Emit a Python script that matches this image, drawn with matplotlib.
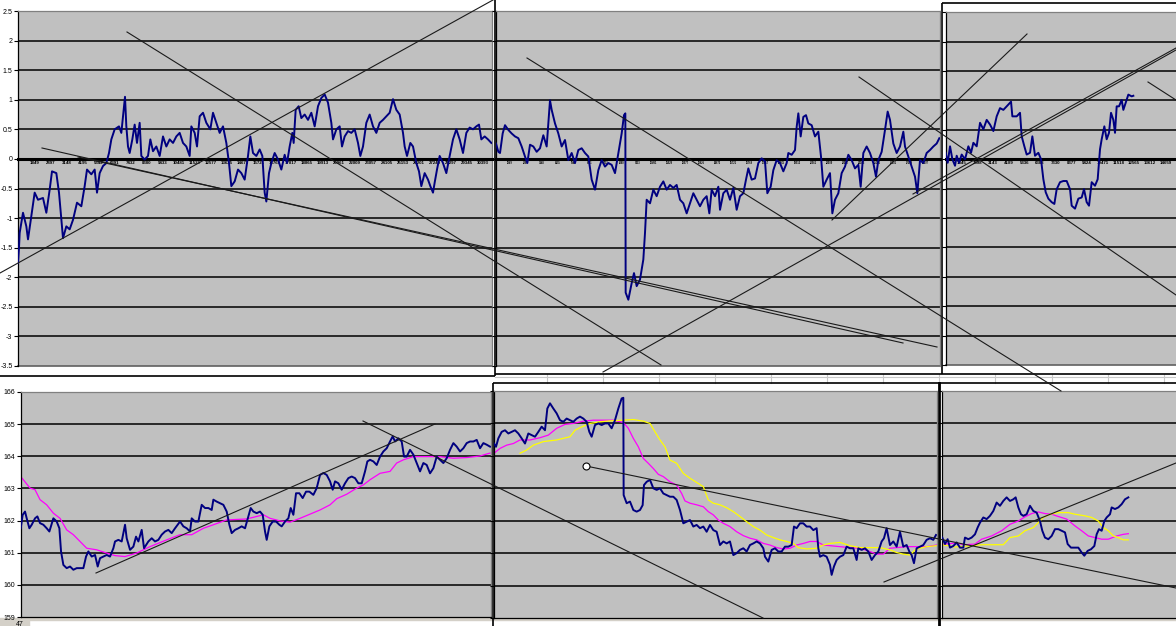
import numpy as np
import matplotlib
matplotlib.use("Agg")
import matplotlib.pyplot as plt

plt.rcParams['font.family'] = ['Liberation Sans', 'DejaVu Sans']

W, H = 1176, 626

# ---- top row: oscillator (x = sample index, y = value) ----
tp1 = np.array([
    (0, -1.76), (3, -1.50), (5, -1.25), (15, -0.91), (25, -1.14), (30, -1.36), (40, -0.97), (50, -0.57),
    (60, -0.69), (75, -0.66), (85, -0.91), (95, -0.52), (102, -0.21), (115, -0.24), (123, -0.57), (130, -1.03),
    (135, -1.34), (145, -1.14), (155, -1.19), (165, -1.03), (177, -0.74), (190, -0.80), (200, -0.46), (207, -0.18),
    (220, -0.26), (230, -0.18), (237, -0.57), (245, -0.24), (255, -0.12), (265, -0.07), (273, 0.10), (280, 0.33),
    (290, 0.50), (303, 0.55), (310, 0.44), (320, 1.00), (321, 1.05), (325, 0.55), (330, 0.21), (335, 0.10),
    (343, 0.33), (350, 0.58), (357, 0.27), (365, 0.61), (370, 0.05), (380, -0.01), (390, 0.05), (397, 0.33),
    (405, 0.13), (415, 0.21), (425, 0.05), (435, 0.38), (445, 0.21), (455, 0.33), (465, 0.27), (475, 0.38),
    (485, 0.44), (495, 0.27), (505, 0.21), (515, 0.05), (520, 0.55), (530, 0.44), (537, 0.21), (545, 0.72),
    (555, 0.78), (565, 0.61), (577, 0.50), (585, 0.78), (595, 0.61), (605, 0.44), (615, 0.55), (625, 0.27),
    (633, -0.07), (640, -0.46), (650, -0.38), (660, -0.18), (670, -0.24), (680, -0.35), (690, 0.05), (697, 0.38),
    (705, 0.10), (715, 0.05), (725, 0.16), (733, 0.05), (740, -0.57), (745, -0.72), (753, -0.24), (760, -0.07),
    (770, 0.10), (780, -0.01), (790, -0.18), (800, 0.07), (807, -0.07), (815, 0.21), (823, 0.44), (827, 0.27),
    (833, 0.83), (842, 0.89), (850, 0.69), (860, 0.75), (870, 0.66), (880, 0.78), (890, 0.55), (900, 0.89),
    (910, 1.03), (920, 1.09), (930, 0.95), (940, 0.61), (945, 0.33), (955, 0.50), (965, 0.55), (972, 0.21),
    (980, 0.38), (990, 0.47), (1000, 0.44), (1010, 0.50), (1020, 0.27), (1027, 0.05), (1035, 0.21), (1045, 0.61),
    (1055, 0.75), (1065, 0.55), (1075, 0.44), (1085, 0.61), (1095, 0.66), (1105, 0.72), (1115, 0.78), (1125, 1.01),
    (1135, 0.83), (1145, 0.75), (1155, 0.44), (1160, 0.21), (1167, 0.05), (1177, 0.27), (1185, 0.21), (1195, -0.07),
    (1203, -0.21), (1210, -0.46), (1220, -0.24), (1230, -0.35), (1237, -0.46), (1245, -0.57), (1250, -0.40),
    (1257, -0.18), (1265, 0.05), (1275, -0.07), (1285, -0.24), (1295, 0.05), (1305, 0.33), (1315, 0.50),
    (1325, 0.33), (1335, 0.10), (1345, 0.44), (1355, 0.53), (1365, 0.50), (1375, 0.55), (1383, 0.58),
    (1390, 0.33), (1400, 0.38), (1410, 0.33), (1420, 0.27)])

tp2 = np.array([
    (0, 0.26), (7, 0.12), (12, 0.10), (20, 0.43), (27, 0.57), (37, 0.49), (47, 0.43), (57, 0.38), (67, 0.35),
    (77, 0.21), (87, 0.04), (94, -0.07), (102, 0.24), (112, 0.21), (122, 0.12), (132, 0.18), (142, 0.40),
    (152, 0.21), (157, 0.60), (162, 0.99), (167, 0.83), (177, 0.60), (187, 0.43), (197, 0.21), (207, 0.32),
    (217, -0.02), (227, 0.10), (237, -0.07), (247, 0.15), (257, 0.18), (267, 0.10), (277, 0.04), (287, -0.35),
    (297, -0.52), (307, -0.19), (317, -0.02), (327, -0.13), (337, -0.07), (347, -0.10), (357, -0.24), (367, 0.10),
    (377, 0.43), (384, 0.74), (388, 0.77), (389, -2.26), (397, -2.38), (407, -2.10), (414, -1.93), (422, -2.15),
    (432, -2.04), (442, -1.70), (447, -1.25), (452, -0.69), (462, -0.75), (472, -0.52), (482, -0.63), (492, -0.47),
    (502, -0.38), (512, -0.52), (522, -0.44), (532, -0.49), (542, -0.44), (552, -0.69), (562, -0.75), (572, -0.92),
    (582, -0.75), (592, -0.58), (602, -0.69), (612, -0.80), (622, -0.69), (632, -0.63), (640, -0.92), (647, -0.52),
    (657, -0.63), (667, -0.47), (672, -0.86), (682, -0.58), (692, -0.52), (702, -0.69), (712, -0.49), (722, -0.86),
    (732, -0.63), (742, -0.58), (750, -0.35), (757, -0.16), (767, -0.35), (777, -0.33), (787, -0.07), (797, 0.01),
    (807, -0.04), (814, -0.58), (824, -0.47), (832, -0.19), (842, -0.02), (852, -0.07), (862, -0.21), (872, -0.07),
    (877, 0.10), (887, 0.07), (897, 0.15), (902, 0.54), (907, 0.77), (914, 0.38), (922, 0.71), (930, 0.74),
    (937, 0.60), (947, 0.57), (957, 0.38), (967, 0.46), (975, 0.04), (982, -0.47), (992, -0.35), (1002, -0.24),
    (1009, -0.92), (1017, -0.69), (1027, -0.58), (1037, -0.24), (1047, -0.13), (1057, 0.07), (1067, -0.02),
    (1077, -0.16), (1087, -0.10), (1094, -0.47), (1102, 0.10), (1112, 0.21), (1122, 0.10), (1132, -0.07),
    (1140, -0.30), (1147, -0.02), (1157, 0.12), (1167, 0.49), (1175, 0.80), (1182, 0.66), (1192, 0.26),
    (1202, 0.10), (1212, 0.21), (1222, 0.46), (1227, 0.21), (1237, 0.04), (1247, -0.13), (1257, -0.30),
    (1264, -0.58), (1272, -0.02), (1282, -0.07), (1292, 0.10), (1302, 0.15), (1312, 0.21), (1322, 0.26),
    (1330, 0.35)])

tp3 = np.array([
    (0, 0.11), (6, -0.06), (13, 0.22), (20, 0.0), (28, -0.11), (33, 0.06), (40, -0.06), (48, 0.08), (58, 0.0),
    (68, 0.22), (76, 0.11), (83, 0.28), (93, 0.22), (103, 0.62), (113, 0.51), (123, 0.67), (133, 0.59),
    (143, 0.48), (153, 0.73), (163, 0.87), (173, 0.84), (183, 0.90), (196, 0.98), (200, 0.73), (213, 0.73),
    (223, 0.79), (228, 0.39), (236, 0.22), (243, 0.08), (253, 0.11), (260, 0.39), (268, 0.06), (278, 0.11),
    (286, 0.0), (293, -0.34), (300, -0.56), (308, -0.67), (318, -0.73), (326, -0.76), (333, -0.51), (343, -0.39),
    (353, -0.37), (363, -0.37), (373, -0.51), (378, -0.79), (388, -0.84), (398, -0.67), (408, -0.65),
    (415, -0.51), (423, -0.73), (430, -0.79), (438, -0.39), (448, -0.45), (456, -0.34), (463, 0.17), (468, 0.34),
    (476, 0.56), (483, 0.34), (490, 0.45), (496, 0.79), (503, 0.67), (508, 0.45), (513, 0.90), (520, 0.90),
    (528, 1.01), (533, 0.84), (540, 0.96), (548, 1.10), (558, 1.07), (563, 1.08)])

# ---- bottom row: price, magenta average, yellow average ----
bp1_price = np.array([
    (0, 161.76), (6, 162.18), (13, 162.28), (18, 162.07), (26, 161.76), (33, 161.87), (43, 162.07), (50, 162.13),
    (58, 161.92), (68, 161.87), (78, 161.76), (86, 161.66), (98, 162.07), (108, 161.97), (116, 161.76),
    (121, 161.04), (128, 160.62), (138, 160.52), (148, 160.57), (158, 160.47), (168, 160.52), (178, 160.52),
    (188, 160.52), (196, 160.88), (203, 161.04), (213, 160.88), (223, 160.93), (231, 160.57), (238, 160.83),
    (248, 160.88), (258, 160.93), (268, 160.88), (278, 161.14), (283, 161.35), (293, 161.40), (303, 161.35),
    (313, 161.87), (318, 161.45), (328, 161.09), (338, 161.19), (346, 161.50), (353, 161.35), (363, 161.71),
    (370, 161.14), (383, 161.35), (393, 161.45), (403, 161.35), (413, 161.40), (423, 161.56), (433, 161.66),
    (443, 161.71), (453, 161.61), (463, 161.76), (478, 161.97), (488, 161.82), (498, 161.76), (508, 161.66),
    (513, 162.07), (523, 161.97), (533, 161.97), (543, 162.49), (553, 162.39), (563, 162.39), (573, 162.33),
    (578, 162.65), (588, 162.59), (598, 162.54), (608, 162.49), (618, 162.28), (626, 161.87), (633, 161.61),
    (643, 161.71), (653, 161.76), (663, 161.82), (673, 161.76), (680, 162.02), (690, 162.39), (698, 162.28),
    (708, 162.23), (718, 162.28), (726, 162.18), (733, 161.66), (738, 161.40), (746, 161.82), (756, 161.97),
    (766, 161.97), (776, 161.87), (783, 161.82), (793, 161.97), (803, 162.07), (810, 162.39), (818, 162.18),
    (826, 162.85), (836, 162.85), (846, 162.70), (856, 162.90), (866, 162.90), (878, 162.80), (888, 163.01),
    (898, 163.42), (908, 163.48), (918, 163.42), (928, 163.22), (936, 162.96), (943, 163.22), (953, 163.16),
    (963, 162.96), (973, 163.16), (983, 163.32), (993, 163.37), (1003, 163.32), (1013, 163.16), (1023, 163.16),
    (1033, 163.53), (1040, 163.84), (1048, 163.89), (1058, 163.84), (1068, 163.73), (1078, 163.99),
    (1088, 164.15), (1098, 164.25), (1108, 164.46), (1116, 164.62), (1123, 164.46), (1133, 164.56),
    (1143, 164.46), (1150, 163.99), (1158, 163.99), (1168, 164.20), (1178, 164.05), (1188, 163.79),
    (1198, 163.53), (1208, 163.79), (1218, 163.73), (1228, 163.47), (1238, 163.63), (1248, 163.99),
    (1258, 163.89), (1268, 163.79), (1278, 163.94), (1288, 164.20), (1298, 164.41), (1308, 164.30),
    (1318, 164.15), (1328, 164.25), (1338, 164.41), (1348, 164.46), (1358, 164.46), (1368, 164.51),
    (1378, 164.25), (1388, 164.41), (1398, 164.36), (1408, 164.30)])

bp1_magenta = np.array([
    (0, 163.37), (28, 163.01), (43, 162.96), (58, 162.65), (78, 162.49), (98, 162.23), (118, 162.07),
    (138, 161.71), (158, 161.56), (178, 161.35), (198, 161.14), (228, 161.09), (258, 160.99), (283, 160.91),
    (313, 160.88), (348, 160.99), (388, 161.19), (438, 161.40), (478, 161.56), (513, 161.56), (548, 161.76),
    (578, 161.87), (618, 162.02), (678, 162.05), (728, 162.18), (748, 162.07), (778, 161.99), (808, 161.95),
    (838, 162.07), (868, 162.20), (898, 162.33), (928, 162.49), (948, 162.68), (978, 162.82), (1008, 163.01),
    (1028, 163.11), (1048, 163.27), (1078, 163.47), (1108, 163.53), (1128, 163.79), (1148, 163.89),
    (1178, 163.99), (1218, 163.99), (1258, 163.99), (1298, 163.94), (1338, 163.96), (1378, 164.01),
    (1408, 164.10)])

bp2_price = np.array([
    (0, 164.38), (6, 164.28), (13, 164.54), (23, 164.74), (33, 164.79), (43, 164.69), (53, 164.74), (63, 164.79),
    (73, 164.69), (83, 164.54), (93, 164.38), (103, 164.69), (113, 164.64), (123, 164.59), (133, 164.74),
    (143, 164.90), (153, 164.79), (160, 165.46), (168, 165.62), (178, 165.46), (188, 165.31), (198, 165.10),
    (208, 165.05), (218, 165.15), (228, 165.10), (238, 165.05), (248, 165.15), (258, 165.21), (268, 165.15),
    (278, 165.05), (286, 164.74), (293, 164.59), (303, 164.95), (313, 165.00), (323, 164.95), (333, 165.00),
    (343, 165.00), (353, 164.85), (363, 165.10), (373, 165.46), (383, 165.77), (388, 165.79), (389, 162.79),
    (398, 162.54), (408, 162.59), (418, 162.33), (428, 162.28), (438, 162.33), (446, 162.48), (450, 163.10),
    (458, 163.20), (468, 163.26), (478, 163.00), (488, 162.95), (498, 163.00), (508, 162.84), (518, 162.79),
    (528, 162.74), (538, 162.74), (548, 162.64), (558, 162.33), (568, 161.92), (578, 161.97), (588, 162.02),
    (598, 161.82), (608, 161.87), (618, 161.77), (628, 161.82), (638, 161.66), (648, 161.87), (658, 161.71),
    (668, 161.66), (678, 161.25), (688, 161.36), (698, 161.30), (708, 161.36), (718, 160.94), (728, 161.00),
    (738, 161.10), (748, 161.15), (758, 161.05), (768, 161.25), (778, 161.30), (788, 161.36), (798, 161.30),
    (808, 161.15), (813, 160.89), (823, 160.74), (833, 161.10), (843, 161.15), (853, 161.05), (863, 161.05),
    (873, 161.20), (883, 161.20), (893, 161.25), (900, 161.82), (908, 161.77), (918, 161.92), (928, 161.92),
    (938, 161.82), (948, 161.82), (958, 161.71), (968, 161.77), (973, 161.15), (978, 160.89), (988, 160.94),
    (998, 160.89), (1008, 160.64), (1013, 160.33), (1020, 160.59), (1028, 160.79), (1038, 160.89),
    (1048, 160.94), (1058, 161.20), (1068, 161.15), (1078, 161.15), (1088, 160.79), (1093, 161.15),
    (1103, 161.10), (1113, 161.15), (1123, 161.05), (1133, 160.79), (1143, 160.94), (1153, 161.05),
    (1163, 161.36), (1170, 161.46), (1178, 161.77), (1188, 161.25), (1198, 161.36), (1208, 161.20),
    (1218, 161.66), (1228, 161.20), (1238, 161.25), (1246, 161.05), (1253, 160.94), (1260, 160.69),
    (1268, 161.15), (1278, 161.20), (1288, 161.25), (1298, 161.41), (1308, 161.46), (1318, 161.41),
    (1326, 161.56)])

bp2_magenta = np.array([
    (0, 164.08), (18, 164.23), (38, 164.33), (58, 164.38), (78, 164.49), (108, 164.49), (138, 164.56),
    (163, 164.64), (188, 164.85), (213, 164.97), (238, 165.00), (268, 165.07), (298, 165.10), (328, 165.10),
    (358, 165.10), (388, 165.03), (403, 164.85), (418, 164.54), (433, 164.28), (448, 163.92), (463, 163.77),
    (478, 163.61), (493, 163.43), (508, 163.36), (528, 163.20), (548, 163.10), (563, 162.84), (573, 162.61),
    (588, 162.54), (608, 162.49), (628, 162.43), (643, 162.28), (658, 162.18), (673, 162.02), (688, 161.92),
    (708, 161.82), (728, 161.66), (748, 161.54), (768, 161.46), (788, 161.41), (808, 161.30), (828, 161.25),
    (848, 161.17), (868, 161.13), (888, 161.15), (908, 161.25), (928, 161.30), (948, 161.36), (968, 161.36),
    (988, 161.25), (1008, 161.23), (1038, 161.20), (1068, 161.17), (1098, 161.15), (1128, 161.05),
    (1148, 160.97), (1168, 160.97), (1188, 161.15), (1208, 161.17), (1238, 161.20), (1268, 161.20),
    (1298, 161.20), (1328, 161.25)])

bp2_yellow = np.array([
    (78, 164.08), (98, 164.18), (118, 164.33), (148, 164.44), (188, 164.49), (228, 164.59), (243, 164.79),
    (258, 164.87), (288, 165.00), (318, 165.05), (348, 165.08), (388, 165.10), (418, 165.12), (448, 165.07),
    (468, 165.00), (483, 164.74), (498, 164.49), (513, 164.28), (528, 163.87), (548, 163.77), (568, 163.46),
    (588, 163.31), (608, 163.18), (628, 163.05), (643, 162.64), (658, 162.54), (678, 162.49), (698, 162.40),
    (718, 162.28), (738, 162.13), (758, 161.97), (778, 161.82), (798, 161.71), (818, 161.56), (838, 161.48),
    (858, 161.41), (878, 161.36), (898, 161.30), (913, 161.17), (938, 161.13), (968, 161.15), (988, 161.25),
    (1008, 161.30), (1038, 161.33), (1068, 161.23), (1098, 161.17), (1128, 161.17), (1158, 161.17),
    (1188, 161.10), (1208, 161.02), (1228, 160.97), (1248, 160.94), (1263, 161.10), (1278, 161.15),
    (1298, 161.20), (1328, 161.23)])

bp3_price = np.array([
    (0, 161.48), (8, 161.28), (16, 161.43), (23, 161.17), (33, 161.22), (43, 161.33), (53, 161.17), (63, 161.17),
    (68, 161.48), (78, 161.43), (88, 161.48), (98, 161.58), (106, 161.79), (113, 161.94), (123, 162.10),
    (133, 162.05), (143, 162.15), (153, 162.30), (163, 162.56), (173, 162.46), (183, 162.61), (193, 162.72),
    (203, 162.61), (213, 162.66), (220, 162.72), (228, 162.41), (236, 162.20), (243, 162.15), (253, 162.20),
    (263, 162.46), (273, 162.30), (283, 162.25), (293, 161.99), (300, 161.69), (308, 161.48), (318, 161.43),
    (328, 161.53), (338, 161.74), (348, 161.74), (358, 161.69), (368, 161.64), (376, 161.28), (386, 161.17),
    (398, 161.17), (408, 161.17), (418, 161.02), (426, 160.92), (436, 161.07), (446, 161.12), (456, 161.22),
    (463, 161.58), (470, 161.74), (478, 161.69), (486, 161.99), (493, 162.10), (503, 162.20), (508, 162.41),
    (518, 162.36), (528, 162.41), (538, 162.51), (548, 162.66), (558, 162.72)])

bp3_magenta = np.array([
    (0, 161.26), (8, 161.28), (38, 161.31), (68, 161.26), (98, 161.28), (118, 161.43), (148, 161.53),
    (178, 161.69), (203, 161.89), (228, 161.99), (248, 162.12), (268, 162.22), (288, 162.27), (308, 162.22),
    (328, 162.20), (348, 162.13), (373, 162.05), (398, 161.84), (418, 161.69), (438, 161.53), (458, 161.48),
    (478, 161.43), (498, 161.43), (523, 161.53), (543, 161.58), (558, 161.60)])

bp3_yellow = np.array([
    (0, 161.26), (38, 161.19), (78, 161.22), (118, 161.26), (148, 161.26), (183, 161.26), (203, 161.48),
    (228, 161.53), (248, 161.69), (273, 161.79), (288, 161.94), (303, 162.10), (323, 162.20), (348, 162.25),
    (378, 162.25), (398, 162.20), (428, 162.15), (448, 162.10), (468, 161.99), (483, 161.79), (498, 161.69),
    (513, 161.53), (528, 161.48), (543, 161.41), (558, 161.41)])

osc_ticks = ['-3.5', '-3', '-2.5', '-2', '-1.5', '-1', '-0.5', '0', '0.5', '1', '1.5', '2', '2.5']
price_ticks = ['159', '160', '161', '162', '163', '164', '165', '166']
tp1_cats = ['1849', '2897', '3148', '4195', '5342', '6391', '7432', '8380', '9433', '10481', '11529',
            '12577', '13625', '14673', '15721', '16769', '17817', '18865', '19913', '20961', '22009',
            '23057', '24105', '25153', '26201', '27249', '28297', '29345', '30393']
tp3_cats = ['1845', '2898', '3143', '4189', '5336', '6383', '7330', '8377', '9424', '10471',
            '11518', '12565', '13612', '14659']

# hand-drawn trend lines on the sheet (sheet pixel coordinates)
trend_lines = [
    ((0, 273), (493, 0)), ((127, 32), (661, 365)), ((42, 148), (903, 343)), ((78, 157), (937, 347)),
    ((603, 372), (1176, 50)), ((913, 194), (1176, 48)), ((832, 220), (1027, 34)), ((859, 77), (1176, 295)),
    ((527, 58), (1061, 391)), ((1148, 82), (1176, 100)),
    ((96, 573), (435, 424)), ((363, 421), (763, 618)), ((586, 466), (1176, 588)), ((884, 582), (1176, 463)),
]
anchor_point = (586, 466)

fig = plt.figure(figsize=(W / 100, H / 100), dpi=100)
fig.patch.set_facecolor('white')


def px_axes(x0, y0, x1, y1):
    return fig.add_axes([x0 / W, 1 - y1 / H, (x1 - x0) / W, (y1 - y0) / H])


# sheet background: chart frames and cell grid
bg = fig.add_axes([0, 0, 1, 1])
bg.set_xlim(0, W)
bg.set_ylim(H, 0)
bg.axis('off')
for x in [547, 603, 659, 715, 771, 827, 883, 939, 995, 1052, 1108, 1164]:
    bg.plot([x, x], [374, 383], color='#c8c8c8', lw=0.8)
bg.plot([495, W], [376.7, 376.7], color='#c8c8c8', lw=0.8)
frames = [((494.5, 0), (494.5, 376)), ((0, 376), (494.5, 376)), ((494.5, 373.5), (941.5, 373.5)),
          ((941.5, 3), (941.5, 374)), ((941.5, 3), (W, 3)), ((941.5, 374), (W, 374)),
          ((493, 383), (W, 383)), ((493, 383), (493, H))]
for (xa, ya), (xb, yb) in frames:
    bg.plot([xa, xb], [ya, yb], color='black', lw=1.2, solid_capstyle='butt')
bg.plot([938.5, 938.5], [383, H], color='black', lw=2.0)
bg.fill_between([0, W], 617.5, 620, color='#d4d0c8')
bg.fill_between([0, 29], 620, H, color='#d4d0c8')
bg.text(20, 624, '47', fontsize=5, ha='center', va='center')


def style_panel(ax, ylo, yhi, step, labels, show_labels, zero_axis):
    ax.set_facecolor('#c0c0c0')
    ax.set_ylim(ylo, yhi)
    levels = np.arange(ylo, yhi + step / 2, step)
    for v in levels[1:-1]:
        if zero_axis and abs(v) < 1e-9:
            continue
        ax.axhline(v, color='black', lw=1.1, zorder=1)
    ax.set_yticks(levels)
    ax.set_yticklabels(labels if show_labels else [])
    ax.tick_params(axis='y', length=3, width=0.8, labelsize=5, pad=1, direction='out')
    for s in ['top', 'right']:
        ax.spines[s].set_color('#808080')
        ax.spines[s].set_linewidth(0.9)
    ax.spines['left'].set_color('black')
    ax.spines['left'].set_linewidth(0.9)
    if zero_axis:
        ax.spines['bottom'].set_position(('data', 0))
        ax.spines['bottom'].set_linewidth(2.2)
        ax.spines['bottom'].set_color('black')
        ax.axhline(ylo, color='#606060', lw=1.2, clip_on=False, zorder=1)
    else:
        ax.spines['bottom'].set_color('black')
        ax.spines['bottom'].set_linewidth(0.9)
        ax.set_xticks([])


def cat_labels(ax, start, step, labels, size):
    ax.set_xticks(start + step * np.arange(len(labels)))
    ax.set_xticklabels(labels, fontsize=size, fontweight='bold')
    ax.tick_params(axis='x', length=0, pad=1.2)


NAVY = '#000080'
BLUE_LW = 1.4

ax1 = px_axes(18, 11, 492, 366)
ax1.set_xlim(0, 1422)
style_panel(ax1, -3.5, 2.5, 0.5, osc_ticks, True, True)
cat_labels(ax1, 50, 48, tp1_cats, 3.2)
ax1.plot(tp1[:, 0], tp1[:, 1], color=NAVY, lw=BLUE_LW, zorder=3)

ax2 = px_axes(496, 11, 940, 366)
ax2.set_xlim(0, 1332)
style_panel(ax2, -3.5, 2.5, 0.5, osc_ticks, False, True)
cat_labels(ax2, 40, 48, tp1_cats[:27], 1.8)
ax2.plot(tp2[:, 0], tp2[:, 1], color=NAVY, lw=BLUE_LW, zorder=3)

ax3 = px_axes(945.7, 12.3, 1180, 365)
ax3.set_xlim(0, 703)
style_panel(ax3, -3.5, 2.5, 0.5, osc_ticks, False, True)
cat_labels(ax3, 48, 47, tp3_cats, 3.2)
ax3.plot(tp3[:, 0], tp3[:, 1], color=NAVY, lw=BLUE_LW, zorder=3)

ax4 = px_axes(20.7, 392, 490.7, 617)
ax4.set_xlim(0, 1410)
style_panel(ax4, 159, 166, 1, price_ticks, True, False)
ax4.plot(bp1_magenta[:, 0], bp1_magenta[:, 1], color='#ff00ff', lw=0.9, zorder=2)
ax4.plot(bp1_price[:, 0], bp1_price[:, 1], color=NAVY, lw=BLUE_LW, zorder=3)

ax5 = px_axes(494, 391, 937.3, 618)
ax5.set_xlim(0, 1330)
style_panel(ax5, 159, 166, 1, price_ticks, False, False)
ax5.plot(bp2_magenta[:, 0], bp2_magenta[:, 1], color='#ff00ff', lw=0.9, zorder=2)
ax5.plot(bp2_yellow[:, 0], bp2_yellow[:, 1], color='#ffff00', lw=0.9, zorder=2)
ax5.plot(bp2_price[:, 0], bp2_price[:, 1], color=NAVY, lw=BLUE_LW, zorder=3)

ax6 = px_axes(942.3, 391, 1180, 618)
ax6.set_xlim(0, 713)
style_panel(ax6, 159, 166, 1, price_ticks, False, False)
ax6.plot(bp3_magenta[:, 0], bp3_magenta[:, 1], color='#ff00ff', lw=0.9, zorder=2)
ax6.plot(bp3_yellow[:, 0], bp3_yellow[:, 1], color='#ffff00', lw=0.9, zorder=2)
ax6.plot(bp3_price[:, 0], bp3_price[:, 1], color=NAVY, lw=BLUE_LW, zorder=3)

# drawing layer on top of all charts
ov = fig.add_axes([0, 0, 1, 1])
ov.set_zorder(10)
ov.patch.set_alpha(0)
ov.set_xlim(0, W)
ov.set_ylim(H, 0)
ov.axis('off')
for (xa, ya), (xb, yb) in trend_lines:
    ov.plot([xa, xb], [ya, yb], color='#1a1a1a', lw=0.8)
ov.plot(*anchor_point, marker='o', ms=5, mfc='white', mec='black', mew=0.8)

fig.savefig('out.png', dpi=100)
